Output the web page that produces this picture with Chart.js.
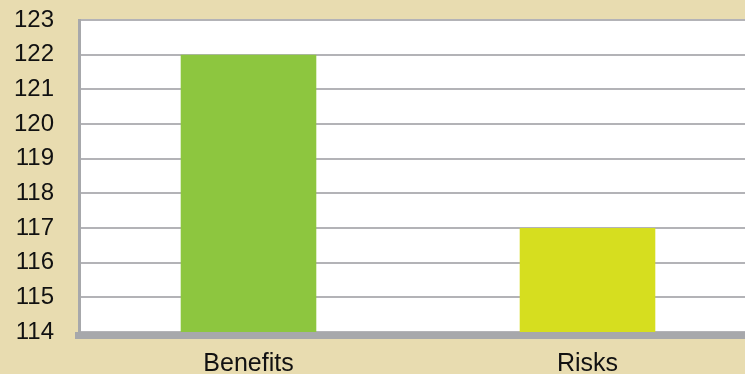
<!DOCTYPE html>
<html>
<head>
<meta charset="utf-8">
<script src="https://cdn.jsdelivr.net/npm/chart.js@4.4.1/dist/chart.umd.min.js"></script>
<style>
  html, body { margin: 0; padding: 0; background: #e8dcb0; overflow: hidden; }
  #wrap { width: 757px; height: 374px; position: relative; }
</style>
</head>
<body>
<div id="wrap"><canvas id="myChart"></canvas></div>
<script>
const categories = ['Benefits', 'Risks'];
const values = [122, 117];
const barColors = ['#8dc63f', '#d6de1f'];
const yMin = 114;
const yMax = 123;

const ctx = document.getElementById('myChart');

// white plot area and the thick grey base line
const plotFrame = {
  id: 'plotFrame',
  beforeDraw(chart) {
    const a = chart.chartArea;
    const c = chart.ctx;
    c.save();
    c.fillStyle = '#ffffff';
    c.fillRect(a.left, a.top, a.right - a.left, a.bottom - a.top);
    c.restore();
  },
  afterDraw(chart) {
    const a = chart.chartArea;
    const c = chart.ctx;
    c.save();
    c.fillStyle = '#a7a8ab';
    c.fillRect(a.left - 4, a.bottom, a.right - a.left + 4, 7);
    c.restore();
  }
};

const chart = new Chart(ctx, {
  type: 'bar',
  data: {
    labels: categories,
    datasets: [{
      data: values,
      backgroundColor: barColors,
      borderWidth: 0,
      barPercentage: 0.4,
      categoryPercentage: 1.0
    }]
  },
  options: {
    responsive: true,
    maintainAspectRatio: false,
    animation: false,
    layout: { padding: { top: 20, right: 0, left: 0, bottom: 0 } },
    plugins: {
      legend: { display: false },
      tooltip: { enabled: false }
    },
    scales: {
      x: {
        grid: { display: false, drawTicks: false },
        border: { display: false },
        ticks: {
          color: '#111111',
          padding: 17,
          font: { family: 'Liberation Sans', size: 25 }
        },
        afterFit(scale) {
          scale.height = 42;
          scale.paddingLeft = 0;
          scale.paddingRight = 0;
        }
      },
      y: {
        min: yMin,
        max: yMax,
        grid: { color: '#b3b3b7', lineWidth: 2, drawTicks: false },
        border: { display: true, color: '#a7a8ab', width: 3 },
        ticks: {
          stepSize: 1,
          color: '#111111',
          padding: 25,
          font: { family: 'Liberation Sans', size: 24 }
        },
        afterFit(scale) {
          scale.width = 79;
          scale.paddingTop = 0;
          scale.paddingBottom = 0;
        }
      }
    }
  },
  plugins: [plotFrame]
});
</script>
</body>
</html>
